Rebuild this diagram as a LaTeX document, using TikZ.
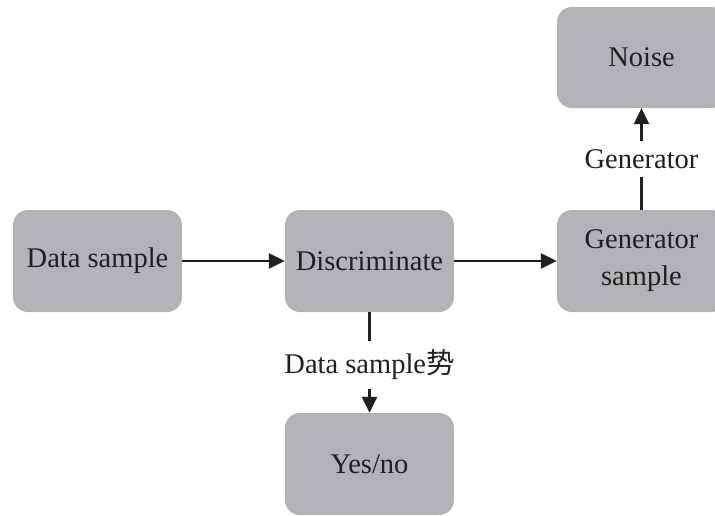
\documentclass[tikz,border=0pt]{standalone}
\usepackage{fontspec}
\setmainfont{Liberation Serif}
\newfontfamily\cjk{Noto Sans CJK SC}
\usetikzlibrary{arrows.meta}
\definecolor{boxgray}{RGB}{178,179,183}
\definecolor{ink}{RGB}{35,31,32}
\tikzset{
  gbox/.style={fill=boxgray, draw=none, rounded corners=15pt, minimum width=169pt, minimum height=102pt, text=ink, align=center, font=\fontsize{28.5}{37}\selectfont, inner sep=0pt},
  conn/.style={draw=ink, line width=2.4pt, -{Triangle[length=16pt,width=15pt]}},
  lbl/.style={fill=white, text=ink, font=\fontsize{28.5}{34}\selectfont, inner sep=6pt}
}
\begin{document}
\begin{tikzpicture}[x=1pt,y=-1pt]
\useasboundingbox (0,0) rectangle (715,515);
\clip (0,0) rectangle (715,515);
\node[gbox] (data) at (97.5,261) {Data sample};
\node[gbox] (disc) at (369.5,261) {Discriminate};
\node[gbox] (gen) at (641.5,261) {Generator\\sample};
\node[gbox, minimum height=101pt] (noise) at (641.5,57.5) {Noise};
\node[gbox] (yes) at (369.5,464) {Yes/no};
\draw[conn] (data) -- (disc);
\draw[conn] (disc) -- (gen);
\draw[conn] (disc) -- node[lbl, inner ysep=9pt, yshift=-2pt] {Data sample{\cjk 势}} (yes);
\draw[conn] (gen) -- node[lbl, inner ysep=8pt] {Generator} (noise);
\end{tikzpicture}
\end{document}
